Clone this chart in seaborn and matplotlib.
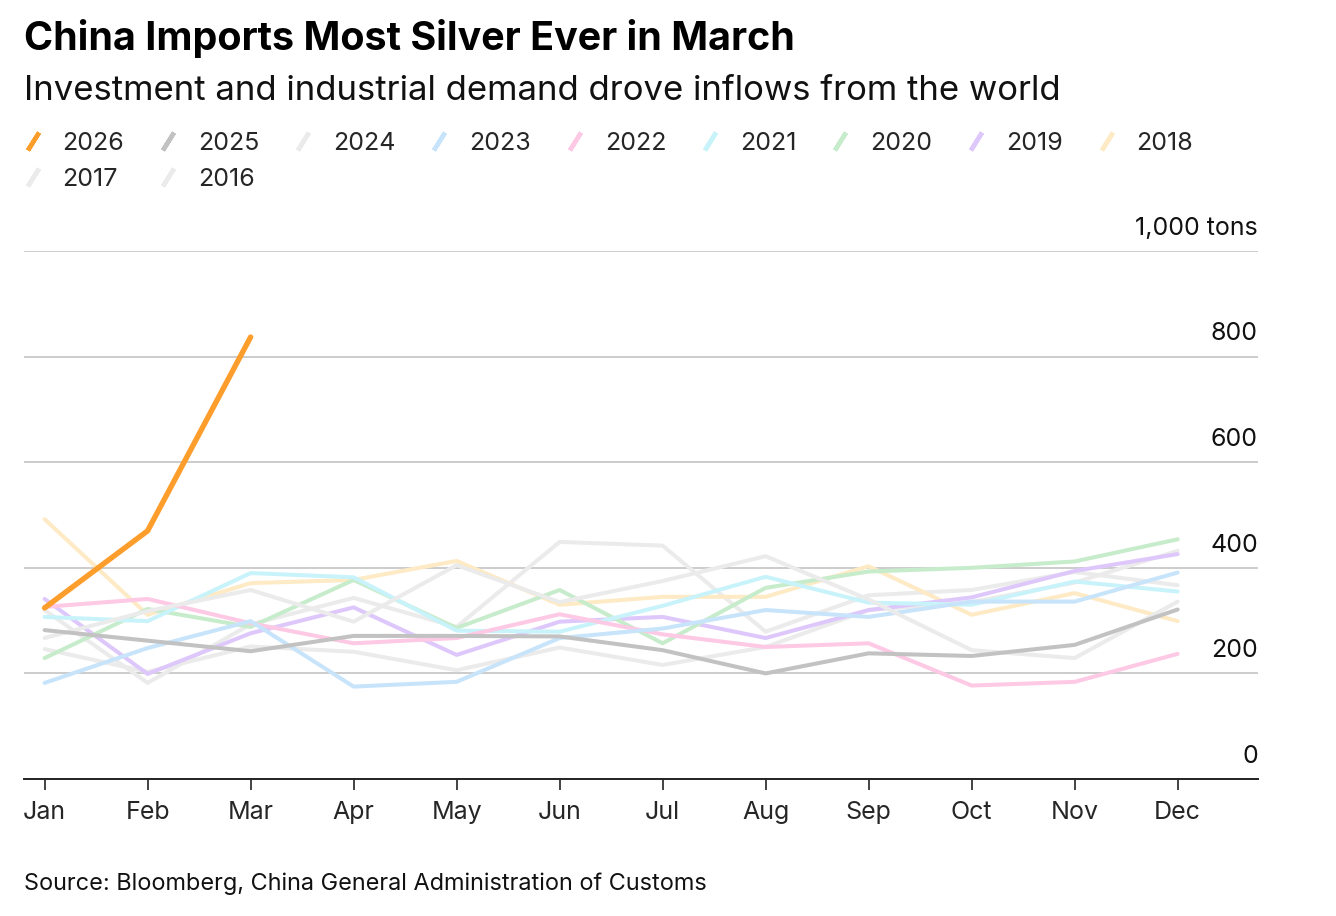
import matplotlib
matplotlib.use("Agg")
import matplotlib.pyplot as plt
import matplotlib.transforms as mtransforms
from matplotlib.lines import Line2D
import pandas as pd
import seaborn as sns

months = ["Jan", "Feb", "Mar", "Apr", "May", "Jun", "Jul", "Aug", "Sep", "Oct", "Nov", "Dec"]

y2026 = [324, 470, 837]
y2025 = [282, 262, 242, 271, 271, 270, 244, 200, 238, 233, 254, 321]
y2024 = [267, 318, 358, 298, 405, 335, 375, 422, 340, 244, 229, 336]
y2023 = [182, 248, 299, 175, 184, 267, 285, 320, 307, 336, 336, 391]
y2022 = [326, 341, 295, 257, 267, 312, 274, 250, 257, 177, 184, 237]
y2021 = [307, 299, 390, 382, 281, 279, 328, 383, 334, 330, 374, 355]
y2020 = [229, 322, 288, 377, 286, 358, 257, 362, 393, 400, 412, 454]
y2019 = [341, 199, 276, 325, 235, 298, 307, 267, 320, 344, 394, 426]
y2018 = [492, 311, 371, 377, 413, 330, 345, 345, 403, 311, 352, 299]
y2017 = [320, 182, 293, 343, 288, 449, 442, 279, 348, 358, 392, 367]
y2016 = [246, 203, 251, 241, 206, 249, 216, 250, 320, 335, 372, 432]

years = ["2026", "2025", "2024", "2023", "2022", "2021", "2020", "2019", "2018", "2017", "2016"]
values = [y2026, y2025, y2024, y2023, y2022, y2021, y2020, y2019, y2018, y2017, y2016]
colors = {
    "2026": "#fd9e2c", "2025": "#c2c2c2", "2024": "#ebebeb", "2023": "#c8e4fa",
    "2022": "#fdc9e4", "2021": "#c9f3fa", "2020": "#c7eccb", "2019": "#dec8fb",
    "2018": "#feeac4", "2017": "#ebebeb", "2016": "#ebebeb",
}
y_ticks = [0, 200, 400, 600, 800, 1000]
y_labels = ["0", "200", "400", "600", "800", "1,000 tons"]

rows = []
for yr, vals in zip(years, values):
    for i, v in enumerate(vals):
        rows.append({"year": yr, "month": i, "value": v})
df = pd.DataFrame(rows)

sns.set_theme(style="white")
plt.rcParams["font.family"] = ["Inter", "DejaVu Sans"]

fig = plt.figure(figsize=(13.36, 9.16), dpi=100)
ax = fig.add_axes([24 / 1336, 1 - 779 / 916, (1258 - 24) / 1336, (779 - 251) / 916])

# oldest first so the current year sits on top
for k, yr in enumerate(reversed(years)):
    lw = 3.9 if yr == "2026" else 2.9
    sns.lineplot(data=df[df["year"] == yr], x="month", y="value", color=colors[yr],
                 linewidth=lw, ax=ax, zorder=3 + k, legend=False)

ax.set_xlim(-0.2, 11.78)
ax.set_ylim(0, 1000)
ax.set_xticks(range(12))
ax.set_xticklabels(months, fontsize=18)
ax.tick_params(axis="x", length=8, width=1.2, color="#222222", pad=8, direction="out", bottom=True)
ax.set_yticks(y_ticks)
ax.set_yticklabels([])
ax.tick_params(axis="y", length=0)
ax.grid(axis="y", color="#cccccc", linewidth=1.4)
ax.grid(axis="x", visible=False)
for s in ["top", "left", "right"]:
    ax.spines[s].set_visible(False)
ax.spines["bottom"].set_color("#222222")
ax.spines["bottom"].set_linewidth(1.4)
ax.set_xlabel("")
ax.set_ylabel("")

trans = mtransforms.blended_transform_factory(ax.transAxes, ax.transData)
off = mtransforms.offset_copy(trans, fig=fig, x=0, y=8, units="points")
for t, lab in zip(y_ticks, y_labels):
    ax.text(1.0, t, lab, transform=off, ha="right", va="bottom", fontsize=18, color="#111111")

fig.text(24 / 1336, 1 - 38 / 916, "China Imports Most Silver Ever in March",
         fontsize=28.4, fontweight="bold", va="center", ha="left", color="#000000")
fig.text(24 / 1336, 1 - 91 / 916, "Investment and industrial demand drove inflows from the world",
         fontsize=25, va="center", ha="left", color="#111111")
fig.text(24 / 1336, 1 - 884 / 916, "Source: Bloomberg, China General Administration of Customs",
         fontsize=16.9, va="center", ha="left", color="#111111")

order = ["2026", "2017", "2025", "2016", "2024", "2023", "2022", "2021", "2020", "2019", "2018"]
handles = [Line2D([], [], linestyle="none", marker=(2, 2, -32), markersize=15,
                  markeredgewidth=3.2, color=colors[yr]) for yr in order]
fig.legend(handles, order, loc="upper left", bbox_to_anchor=(10 / 1336, 1 - 122 / 916),
           ncol=9, frameon=False, fontsize=18, handlelength=1.0, handletextpad=0.7,
           columnspacing=1.25, labelspacing=0.5, borderaxespad=0)

fig.savefig("out.png", dpi=100)
